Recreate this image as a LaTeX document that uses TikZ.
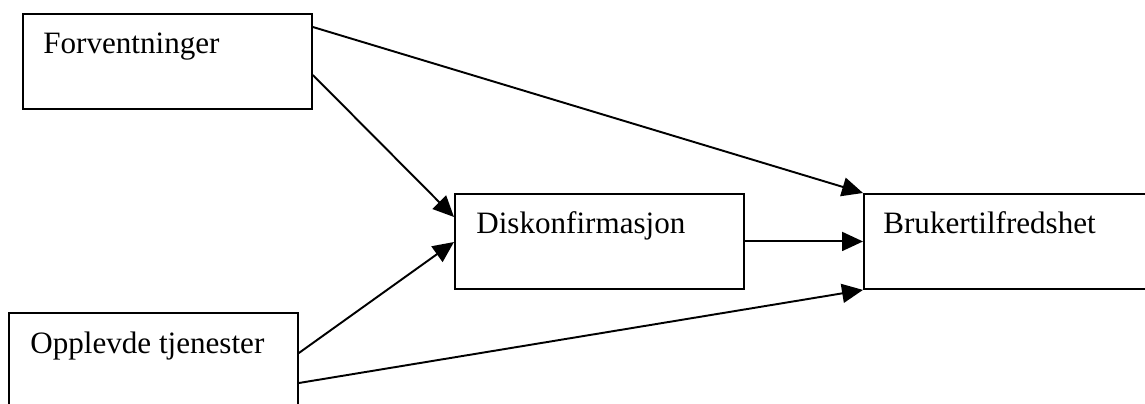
\documentclass[tikz,border=0pt]{standalone}
\usepackage{fontspec}
\setmainfont{Liberation Serif}
\usetikzlibrary{arrows.meta,calc}
\begin{document}
\begin{tikzpicture}[x={(0.02cm,0)},y={(0,-0.02cm)},
  box/.style={draw,line width=1.1pt,rectangle,inner sep=0pt,anchor=north west},
  lbl/.style={anchor=base west,inner sep=0pt,font=\fontsize{17.7}{21}\selectfont},
  flow/.style={line width=1.1pt,-{Triangle[length=0.42cm,width=0.38cm]}}]
\useasboundingbox (0,0) rectangle (1145,403);
% boxes
\node[box,minimum width=5.78cm,minimum height=1.9cm] (f) at (22,13) {};
\node[box,minimum width=5.78cm,minimum height=1.9cm] (d) at (454,193) {};
\node[box,minimum width=6.4cm,minimum height=1.9cm] (b) at (863,193) {};
\node[box,minimum width=5.78cm,minimum height=2.4cm] (o) at (8,312) {};
% labels
\node[lbl] (ft) at (43,53) {Forventninger};
\node[lbl] (dt) at (476,233) {Diskonfirmasjon};
\node[lbl] (bt) at (883,233) {Brukertilfredshet};
\node[lbl] (ot) at (30,353) {Opplevde tjenester};
% connectors
\draw[flow] ($(f.north east)+(0,14)$) -- (b.north west);
\draw[flow] ($(f.north east)+(0,62)$) -- ($(d.north west)+(0,24)$);
\draw[flow] ($(o.north east)+(0,41)$) -- ($(d.north west)+(0,49)$);
\draw[flow] ($(o.north east)+(0,71)$) -- (b.south west);
\draw[flow] (d.east) -- (d.east -| b.west);
\end{tikzpicture}
\end{document}
